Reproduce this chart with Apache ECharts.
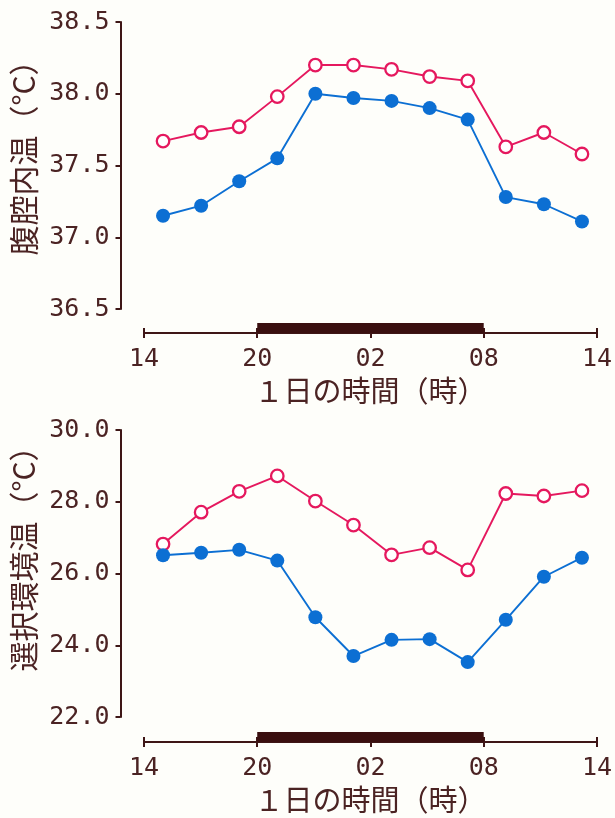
<!DOCTYPE html>
<html><head><meta charset="utf-8">
<script src="https://cdn.jsdelivr.net/npm/echarts@6/dist/echarts.min.js"></script>
<style>html,body{margin:0;padding:0;background:#fefefa;}#c{width:615px;height:818px;}</style>
</head><body><div id="c"></div>
<script>
// hours measured from 14:00 of day 1 (25 = 01:00 next day)
const hours = [15,17,19,21,23,25,27,29,31,33,35,37];
const bodyTempOpen = [37.67,37.73,37.77,37.98,38.20,38.20,38.17,38.12,38.09,37.63,37.73,37.58];
const bodyTempFilled = [37.15,37.22,37.39,37.55,38.00,37.97,37.95,37.90,37.82,37.28,37.23,37.11];
const envTempOpen = [26.82,27.71,28.29,28.72,28.02,27.35,26.52,26.72,26.10,28.23,28.16,28.31];
const envTempFilled = [26.51,26.58,26.66,26.36,24.78,23.70,24.15,24.17,23.53,24.71,25.91,26.44];
const xTicks = [14,20,26,32,38];
const xTickLabels = ['14','20','02','08','14'];
const darkPeriod = [20,32];
const topYName = '腹腔内温（°C）';
const botYName = '選択環境温（°C）';
const xName = '１日の時間（時）';

const pink = '#e5185e', blue = '#0c6fd3', axisC = '#3e1616', textC = '#4b2323';
const numFont = '"DejaVu Sans Mono", monospace';
const cjkFont = '"Noto Sans CJK JP", sans-serif';

function pair(x, y){ return x.map((v,i)=>[v,y[i]]); }

const mainGrids = [{top:22, height:287}, {top:430, height:287}];
const stripGrids = [{top:323, height:10}, {top:732, height:10}];
const L = 144, R = 14;
const grid = [];
mainGrids.forEach(g=>grid.push({left:L, right:R, top:g.top, height:g.height}));
stripGrids.forEach(g=>grid.push({left:L, right:R, top:g.top, height:g.height}));

const xAxis = [], yAxis = [], series = [];
[0,1].forEach(i=>{
  xAxis.push({gridIndex:i, type:'value', min:14, max:38, show:false});
});
[2,3].forEach(i=>{
  xAxis.push({gridIndex:i, type:'value', min:14, max:38, interval:6, position:'bottom',
    axisLine:{show:true, lineStyle:{color:axisC, width:2}},
    axisTick:{show:true, length:5, lineStyle:{color:axisC, width:2}},
    splitLine:{show:false},
    axisLabel:{margin:14, fontFamily:numFont, fontSize:25, color:textC,
      formatter:v=>xTickLabels[xTicks.indexOf(v)]},
    name:xName, nameLocation:'middle', nameGap:43,
    nameTextStyle:{fontFamily:cjkFont, fontSize:29, color:textC}
  });
  xAxis.push({gridIndex:i, type:'value', min:14, max:38, interval:6, position:'bottom',
    axisLine:{show:false}, axisLabel:{show:false}, splitLine:{show:false},
    axisTick:{show:true, inside:true, length:5, lineStyle:{color:axisC, width:2}}});
});
const yDefs = [
  {min:36.5, max:38.5, interval:0.5, name:topYName, pad:30},
  {min:22, max:30, interval:2, name:botYName, pad:44}
];
yDefs.forEach((d,i)=>{
  yAxis.push({gridIndex:i, type:'value', min:d.min, max:d.max, interval:d.interval, offset:23.5,
    axisLine:{show:true, lineStyle:{color:axisC, width:2}},
    axisTick:{show:true, length:5, lineStyle:{color:axisC, width:2}},
    splitLine:{show:false},
    axisLabel:{margin:11, fontFamily:numFont, fontSize:25, color:textC, formatter:v=>v.toFixed(1)},
    name:d.name, nameLocation:'middle', nameGap:78, nameRotate:90,
    nameTextStyle:{fontFamily:cjkFont, fontSize:30, color:textC, padding:[0,0,0,d.pad]}
  });
  yAxis.push({gridIndex:i, type:'value', min:d.min, max:d.max, interval:d.interval, offset:23.5,
    axisLine:{show:false}, axisLabel:{show:false}, splitLine:{show:false},
    axisTick:{show:true, inside:true, length:5, lineStyle:{color:axisC, width:2}}});
});
[2,3].forEach(i=>yAxis.push({gridIndex:i, type:'value', min:0, max:1, show:false}));

function openSeries(xi, yi, data){
  return {type:'line', xAxisIndex:xi, yAxisIndex:yi, data:data, symbol:'circle', symbolSize:12.5,
    lineStyle:{color:pink, width:1.9}, itemStyle:{color:'#ffffff', borderColor:pink, borderWidth:2.3},
    z:3, animation:false};
}
function filledSeries(xi, yi, data){
  return {type:'line', xAxisIndex:xi, yAxisIndex:yi, data:data, symbol:'circle', symbolSize:14,
    lineStyle:{color:blue, width:1.9}, itemStyle:{color:blue, borderWidth:0},
    z:4, animation:false};
}
series.push(openSeries(0,0,pair(hours,bodyTempOpen)));
series.push(filledSeries(0,0,pair(hours,bodyTempFilled)));
series.push(openSeries(1,2,pair(hours,envTempOpen)));
series.push(filledSeries(1,2,pair(hours,envTempFilled)));
[[2,4],[4,5]].forEach(([xi,yi])=>{
  series.push({type:'line', xAxisIndex:xi, yAxisIndex:yi,
    data:[[darkPeriod[0],0.5],[darkPeriod[1],0.5]], symbol:'none',
    lineStyle:{color:'#3a0f0f', width:10, cap:'butt'}, z:5, animation:false});
});

const chart = echarts.init(document.getElementById('c'), null, {renderer:'canvas'});
chart.setOption({backgroundColor:'#fefefa', animation:false, grid, xAxis, yAxis, series});
</script></body></html>
